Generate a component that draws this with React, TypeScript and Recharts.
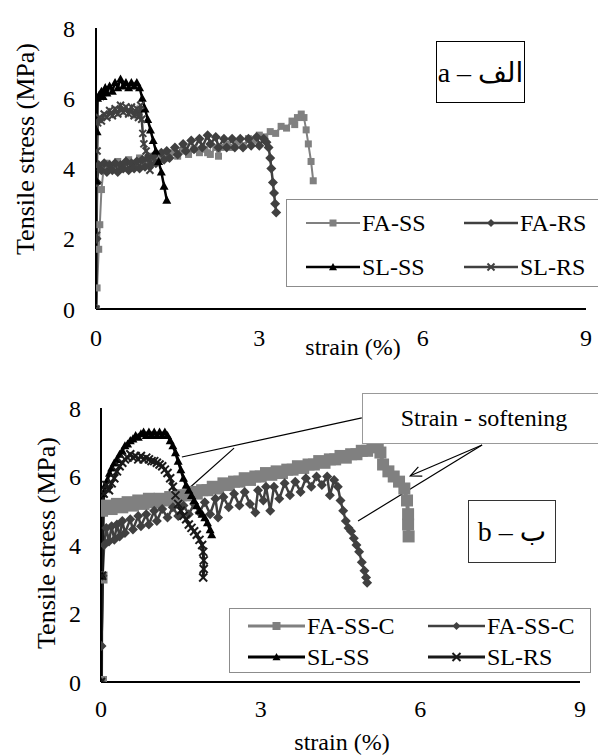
import React from 'react';
import { LineChart, Line, XAxis, YAxis, Legend, ReferenceLine } from 'recharts';

type Pt = [number, number];
type Marker = 'square' | 'diamond' | 'triangle' | 'cross';

const FONT = "'Liberation Serif', Tinos, 'Times New Roman', Times, 'DejaVu Serif', serif";
const BOX_FONT = "'Liberation Serif', 'Times New Roman', 'DejaVu Sans', serif";

const strainTicks = [0, 3, 6, 9];
const stressTicks = [0, 2, 4, 6, 8];

// chart a
const faSsA: Pt[] = [
  [0, 0], [0.02, 0.6], [0.05, 1.7], [0.07, 2.4], [0.1, 3.4], [0.14, 4.0], [0.2, 4.15], [0.3, 4.05],
  [0.4, 4.2], [0.5, 4.1], [0.6, 4.25], [0.7, 4.15], [0.8, 4.3], [0.9, 4.2], [1.0, 4.35], [1.1, 4.25],
  [1.2, 4.4], [1.3, 4.3], [1.4, 4.45], [1.5, 4.35], [1.6, 4.5], [1.7, 4.4], [1.8, 4.55], [1.9, 4.45],
  [2.0, 4.55], [2.05, 4.45], [2.1, 4.4], [2.2, 4.6], [2.25, 4.35], [2.3, 4.6], [2.4, 4.7], [2.5, 4.6],
  [2.6, 4.75], [2.7, 4.65], [2.8, 4.85], [2.9, 4.8], [3.0, 4.95], [3.1, 4.9], [3.2, 5.05], [3.3, 5.0],
  [3.4, 5.2], [3.5, 5.15], [3.6, 5.35], [3.65, 5.25], [3.7, 5.45], [3.77, 5.55], [3.82, 5.45],
  [3.86, 5.1], [3.9, 4.7], [3.95, 4.2], [3.99, 3.65],
];
const faRsA: Pt[] = [
  [0, 0], [0.01, 2.0], [0.02, 3.6], [0.05, 4.1], [0.1, 3.95], [0.15, 4.15], [0.2, 3.9], [0.25, 4.1],
  [0.3, 3.95], [0.35, 4.15], [0.4, 3.9], [0.45, 4.1], [0.5, 4.0], [0.55, 4.2], [0.6, 3.95], [0.65, 4.15],
  [0.7, 4.0], [0.75, 4.2], [0.8, 4.0], [0.85, 4.25], [0.9, 4.05], [0.95, 4.3], [1.0, 4.1], [1.05, 4.35],
  [1.1, 4.15], [1.2, 4.45], [1.25, 4.25], [1.3, 4.5], [1.35, 4.3], [1.45, 4.6], [1.5, 4.4], [1.6, 4.7],
  [1.65, 4.5], [1.75, 4.8], [1.8, 4.55], [1.9, 4.85], [1.95, 4.6], [2.05, 4.95], [2.1, 4.7], [2.2, 4.9],
  [2.25, 4.6], [2.35, 4.85], [2.4, 4.6], [2.5, 4.85], [2.55, 4.6], [2.65, 4.85], [2.7, 4.6], [2.8, 4.85],
  [2.85, 4.65], [2.95, 4.9], [3.0, 4.65], [3.08, 4.85], [3.13, 4.75], [3.17, 4.6], [3.2, 4.3], [3.22, 4.0],
  [3.25, 3.6], [3.27, 3.3], [3.29, 3.0], [3.31, 2.75],
];
const slSsA: Pt[] = [
  [0, 0], [0.01, 3.65], [0.02, 5.05], [0.03, 6.0], [0.06, 6.1], [0.1, 6.2], [0.13, 6.05], [0.17, 6.3],
  [0.2, 6.15], [0.25, 6.35], [0.3, 6.2], [0.35, 6.45], [0.4, 6.3], [0.45, 6.55], [0.5, 6.35], [0.55, 6.45],
  [0.6, 6.3], [0.65, 6.45], [0.7, 6.35], [0.75, 6.45], [0.8, 6.3], [0.85, 6.0], [0.9, 5.7], [0.95, 5.4],
  [1.0, 5.1], [1.05, 4.8], [1.1, 4.5], [1.15, 4.2], [1.2, 3.9], [1.25, 3.5], [1.3, 3.1],
];
const slRsA: Pt[] = [
  [0, 0], [0.01, 2.1], [0.02, 4.5], [0.03, 5.3], [0.06, 5.45], [0.1, 5.35], [0.15, 5.55], [0.2, 5.45],
  [0.25, 5.65], [0.3, 5.5], [0.35, 5.7], [0.4, 5.55], [0.45, 5.8], [0.5, 5.6], [0.55, 5.75], [0.6, 5.55],
  [0.65, 5.75], [0.7, 5.5], [0.75, 5.7], [0.78, 5.45], [0.82, 5.8], [0.84, 5.4], [0.86, 5.0], [0.88, 4.7],
  [0.92, 4.5], [0.96, 4.3], [0.99, 3.95],
];

// chart b
const faSsCB: Pt[] = [
  [0, 0], [0.01, 3.05], [0.02, 5.0], [0.1, 5.15], [0.2, 5.05], [0.3, 5.2], [0.4, 5.1], [0.5, 5.25],
  [0.6, 5.15], [0.7, 5.3], [0.8, 5.2], [0.9, 5.35], [1.0, 5.25], [1.1, 5.35], [1.2, 5.3], [1.3, 5.4],
  [1.4, 5.35], [1.5, 5.45], [1.6, 5.45], [1.7, 5.55], [1.8, 5.5], [1.9, 5.6], [2.0, 5.6], [2.1, 5.7],
  [2.2, 5.65], [2.3, 5.8], [2.4, 5.75], [2.5, 5.85], [2.6, 5.85], [2.7, 5.95], [2.8, 5.9], [2.9, 6.0],
  [3.0, 6.0], [3.1, 6.1], [3.2, 6.05], [3.3, 6.15], [3.4, 6.1], [3.5, 6.2], [3.6, 6.2], [3.7, 6.3],
  [3.8, 6.25], [3.9, 6.35], [4.0, 6.35], [4.1, 6.45], [4.2, 6.4], [4.3, 6.5], [4.4, 6.5], [4.5, 6.6],
  [4.6, 6.55], [4.7, 6.65], [4.8, 6.65], [4.9, 6.75], [5.0, 6.75], [5.1, 6.85], [5.2, 6.9], [5.25, 6.7],
  [5.3, 6.35], [5.4, 6.15], [5.5, 6.0], [5.6, 5.85], [5.7, 5.65], [5.75, 5.3], [5.77, 4.9], [5.77, 4.6],
  [5.78, 4.25],
];
const faSsC2B: Pt[] = [
  [0, 0], [0.01, 1.05], [0.03, 3.1], [0.06, 4.0], [0.1, 4.5], [0.15, 4.1], [0.2, 4.55], [0.25, 4.15],
  [0.3, 4.6], [0.35, 4.25], [0.4, 4.7], [0.45, 4.35], [0.55, 4.75], [0.6, 4.45], [0.7, 4.85], [0.75, 4.55],
  [0.85, 4.9], [0.9, 4.6], [1.0, 5.0], [1.05, 4.7], [1.15, 5.05], [1.25, 4.8], [1.35, 5.1], [1.45, 4.85],
  [1.55, 5.15], [1.65, 4.9], [1.75, 5.2], [1.85, 4.95], [1.95, 5.25], [2.05, 4.9], [2.15, 5.35], [2.2, 4.8],
  [2.3, 5.4], [2.4, 5.1], [2.5, 5.5], [2.6, 5.15], [2.7, 5.55], [2.8, 5.2], [2.9, 4.95], [2.95, 5.6],
  [3.05, 5.3], [3.1, 5.7], [3.18, 5.0], [3.25, 5.7], [3.35, 5.35], [3.45, 5.8], [3.55, 5.45], [3.65, 5.85],
  [3.75, 5.55], [3.85, 5.95], [3.95, 5.7], [4.05, 6.0], [4.15, 5.75], [4.25, 6.0], [4.3, 5.45], [4.38, 5.9],
  [4.45, 5.7], [4.5, 5.3], [4.55, 5.0], [4.6, 4.7], [4.65, 4.5], [4.7, 4.4], [4.75, 4.2], [4.8, 4.0],
  [4.85, 3.8], [4.9, 3.5], [4.95, 3.25], [4.98, 3.05], [5.0, 2.9],
];
const slSsB: Pt[] = [
  [0, 0], [0.02, 3.1], [0.04, 5.5], [0.08, 5.75], [0.12, 5.9], [0.16, 6.1], [0.2, 6.25], [0.25, 6.4],
  [0.3, 6.5], [0.35, 6.65], [0.4, 6.75], [0.45, 6.9], [0.5, 6.95], [0.55, 7.05], [0.6, 7.1], [0.65, 7.2],
  [0.7, 7.15], [0.75, 7.25], [0.8, 7.3], [0.85, 7.2], [0.9, 7.3], [0.95, 7.2], [1.0, 7.3], [1.05, 7.2],
  [1.1, 7.3], [1.15, 7.2], [1.2, 7.3], [1.25, 7.2], [1.3, 7.05], [1.35, 6.9], [1.4, 6.7], [1.45, 6.45],
  [1.5, 6.2], [1.55, 5.95], [1.6, 5.75], [1.65, 5.6], [1.7, 5.45], [1.75, 5.3], [1.8, 5.15], [1.85, 5.0],
  [1.9, 4.9], [1.95, 4.8], [2.0, 4.65], [2.05, 4.45], [2.08, 4.3],
];
const slRsB: Pt[] = [
  [0, 0], [0.02, 3.1], [0.05, 5.5], [0.1, 5.75], [0.15, 5.6], [0.2, 5.8], [0.25, 5.95], [0.3, 6.15],
  [0.35, 6.3], [0.4, 6.4], [0.45, 6.5], [0.5, 6.55], [0.55, 6.65], [0.6, 6.55], [0.65, 6.6], [0.7, 6.5],
  [0.75, 6.6], [0.8, 6.5], [0.85, 6.55], [0.9, 6.5], [0.95, 6.45], [1.0, 6.45], [1.05, 6.4], [1.1, 6.35],
  [1.15, 6.3], [1.2, 6.2], [1.25, 6.1], [1.3, 5.95], [1.35, 5.7], [1.4, 5.45], [1.45, 5.2], [1.5, 5.0],
  [1.55, 4.85], [1.6, 4.75], [1.65, 4.6], [1.7, 4.5], [1.75, 4.4], [1.8, 4.3], [1.85, 4.15], [1.9, 4.0],
  [1.92, 3.8], [1.93, 3.55], [1.93, 3.3], [1.92, 3.05],
];

// callout segments for "Strain - softening" (strain, stress)
const softeningLines: [Pt, Pt][] = [
  [[4.9, 7.71], [1.52, 6.57]],
  [[2.5, 6.83], [1.47, 5.4]],
  [[7.16, 6.92], [4.83, 4.7]],
];
const softeningArrow: [Pt, Pt] = [[7.16, 6.92], [5.81, 6.02]];

type Series = { name: string; pts: Pt[]; color: string; marker: Marker; size: number; width: number };

const seriesA: Series[] = [
  { name: 'FA-SS', pts: faSsA, color: '#808080', marker: 'square', size: 7, width: 2 },
  { name: 'FA-RS', pts: faRsA, color: '#404040', marker: 'diamond', size: 10, width: 2.5 },
  { name: 'SL-SS', pts: slSsA, color: '#000000', marker: 'triangle', size: 9, width: 2.5 },
  { name: 'SL-RS', pts: slRsA, color: '#404040', marker: 'cross', size: 7, width: 2.5 },
];
const seriesB: Series[] = [
  { name: 'FA-SS-C', pts: faSsCB, color: '#808080', marker: 'square', size: 12, width: 4 },
  { name: 'FA-SS-C', pts: faSsC2B, color: '#404040', marker: 'diamond', size: 10, width: 2.5 },
  { name: 'SL-SS', pts: slSsB, color: '#000000', marker: 'triangle', size: 9, width: 3 },
  { name: 'SL-RS', pts: slRsB, color: '#1a1a1a', marker: 'cross', size: 8, width: 3 },
];

const toRows = (pts: Pt[]) => pts.map(([x, y]) => ({ x, y }));

function drawMarker(kind: Marker, cx: number, cy: number, size: number, color: string, key?: string) {
  const h = size / 2;
  if (kind === 'square') {
    return <rect key={key} x={cx - h} y={cy - h} width={size} height={size} fill={color} />;
  }
  if (kind === 'diamond') {
    return <polygon key={key} points={`${cx},${cy - h} ${cx + h},${cy} ${cx},${cy + h} ${cx - h},${cy}`} fill={color} />;
  }
  if (kind === 'triangle') {
    return <polygon key={key} points={`${cx},${cy - h} ${cx + h},${cy + h * 0.8} ${cx - h},${cy + h * 0.8}`} fill={color} />;
  }
  return (
    <g key={key} stroke={color} strokeWidth={2}>
      <line x1={cx - h} y1={cy - h} x2={cx + h} y2={cy + h} />
      <line x1={cx - h} y1={cy + h} x2={cx + h} y2={cy - h} />
    </g>
  );
}

const dotFor = (s: Series) => (p: any) => {
  if (p.cx == null || p.cy == null) return <g key={`e${p.index}`} />;
  return drawMarker(s.marker, p.cx, p.cy, s.size, s.color, `d${p.index}`);
};

function ArrowLine(props: any) {
  const { x1, y1, x2, y2 } = props;
  const dx = x2 - x1;
  const dy = y2 - y1;
  const len = Math.sqrt(dx * dx + dy * dy) || 1;
  const ux = dx / len;
  const uy = dy / len;
  const bx = x2 - ux * 11;
  const by = y2 - uy * 11;
  return (
    <g stroke="#000" strokeWidth={1.2} fill="none">
      <line x1={x1} y1={y1} x2={x2} y2={y2} />
      <polyline points={`${bx - uy * 5},${by + ux * 5} ${x2},${y2} ${bx + uy * 5},${by - ux * 5}`} />
    </g>
  );
}

type LegendLayout = { w: number; h: number; colX: number[]; rowY: number[]; sampleW: number };

const legendContent = (series: Series[], lay: LegendLayout) => () => (
  <div
    style={{
      position: 'relative',
      width: lay.w,
      height: lay.h,
      border: '1.5px solid #8c8c8c',
      background: '#fff',
      boxSizing: 'border-box',
      fontFamily: FONT,
    }}
  >
    {series.map((s, i) => (
      <div
        key={i}
        style={{
          position: 'absolute',
          left: lay.colX[i % 2],
          top: lay.rowY[Math.floor(i / 2)] - 14,
          height: 28,
          display: 'flex',
          alignItems: 'center',
          whiteSpace: 'nowrap',
        }}
      >
        <svg width={lay.sampleW} height={28}>
          <line x1={0} y1={14} x2={lay.sampleW} y2={14} stroke={s.color} strokeWidth={Math.min(s.width, 3)} />
          {drawMarker(s.marker, lay.sampleW / 2, 14, Math.min(s.size, 8), s.color)}
        </svg>
        <span style={{ fontSize: 24, lineHeight: '28px', color: '#000', marginLeft: 2, fontFamily: FONT }}>{s.name}</span>
      </div>
    ))}
  </div>
);

const tickStyle = { fontSize: 24, fill: '#000', fontFamily: FONT };
const axisLine = { stroke: '#000', strokeWidth: 2 };

const boxStyle = (left: number, top: number, width: number, height: number, border: string): React.CSSProperties => ({
  position: 'absolute',
  left,
  top,
  width,
  height,
  border,
  boxSizing: 'border-box',
  background: '#fff',
  display: 'flex',
  alignItems: 'center',
  justifyContent: 'center',
  fontFamily: BOX_FONT,
  color: '#000',
});

export default function App() {
  return (
    <div
      style={{
        position: 'absolute',
        left: 0,
        top: 0,
        width: 598,
        height: 755,
        overflow: 'hidden',
        background: '#fff',
        fontFamily: FONT,
      }}
    >
      <div style={{ position: 'absolute', left: 0, top: 0 }}>
        <LineChart width={598} height={360} margin={{ top: 28, right: 12, bottom: 0, left: 0 }} style={{ fontFamily: FONT }}>
          <XAxis
            dataKey="x"
            type="number"
            domain={[0, 9]}
            ticks={strainTicks}
            interval={0}
            allowDataOverflow
            height={51}
            axisLine={axisLine}
            tickLine={false}
            tickSize={0}
            tickMargin={20}
            tick={tickStyle}
            label={() => (
              <text x={353} y={355} textAnchor="middle" fontSize={24} style={{ fontFamily: FONT }} fill="#000">
                strain (%)
              </text>
            )}
          />
          <YAxis
            type="number"
            domain={[0, 8]}
            ticks={stressTicks}
            interval={0}
            allowDataOverflow
            width={96}
            axisLine={axisLine}
            tickLine={false}
            tickSize={0}
            tickMargin={21}
            tick={tickStyle}
            label={() => (
              <text x={34} y={149} transform="rotate(-90 34 149)" textAnchor="middle" fontSize={26} style={{ fontFamily: FONT }} fill="#000">
                Tensile stress (MPa)
              </text>
            )}
          />
          {seriesA.map((s, i) => (
            <Line
              key={i}
              name={s.name}
              data={toRows(s.pts)}
              dataKey="y"
              type="linear"
              stroke={s.color}
              strokeWidth={s.width}
              dot={dotFor(s)}
              activeDot={false}
              isAnimationActive={false}
            />
          ))}
          <Legend
            layout="horizontal"
            verticalAlign="middle"
            align="center"
            wrapperStyle={{ left: 286, top: 199, width: 330, height: 88 }}
            content={legendContent(seriesA, { w: 330, h: 88, colX: [19, 177], rowY: [23, 67], sampleW: 54 })}
          />
        </LineChart>
      </div>

      <div style={{ position: 'absolute', left: 0, top: 370 }}>
        <LineChart width={598} height={385} margin={{ top: 38, right: 18, bottom: 0, left: 0 }} style={{ fontFamily: FONT }}>
          <XAxis
            dataKey="x"
            type="number"
            domain={[0, 9]}
            ticks={strainTicks}
            interval={0}
            allowDataOverflow
            height={73}
            axisLine={axisLine}
            tickLine={false}
            tickSize={0}
            tickMargin={18}
            tick={tickStyle}
            label={() => (
              <text x={342} y={380} textAnchor="middle" fontSize={24} style={{ fontFamily: FONT }} fill="#000">
                strain (%)
              </text>
            )}
          />
          <YAxis
            type="number"
            domain={[0, 8]}
            ticks={stressTicks}
            interval={0}
            allowDataOverflow
            width={101}
            axisLine={axisLine}
            tickLine={false}
            tickSize={0}
            tickMargin={20}
            tick={tickStyle}
            label={() => (
              <text x={55} y={173} transform="rotate(-90 55 173)" textAnchor="middle" fontSize={26} style={{ fontFamily: FONT }} fill="#000">
                Tensile stress (MPa)
              </text>
            )}
          />
          {seriesB.map((s, i) => (
            <Line
              key={i}
              name={s.name}
              data={toRows(s.pts)}
              dataKey="y"
              type="linear"
              stroke={s.color}
              strokeWidth={s.width}
              dot={dotFor(s)}
              activeDot={false}
              isAnimationActive={false}
            />
          ))}
          {softeningLines.map((seg, i) => (
            <ReferenceLine
              key={`s${i}`}
              segment={[{ x: seg[0][0], y: seg[0][1] }, { x: seg[1][0], y: seg[1][1] }]}
              stroke="#000"
              strokeWidth={1.2}
              ifOverflow="visible"
            />
          ))}
          <ReferenceLine
            segment={[
              { x: softeningArrow[0][0], y: softeningArrow[0][1] },
              { x: softeningArrow[1][0], y: softeningArrow[1][1] },
            ]}
            ifOverflow="visible"
            shape={(p: any) => <ArrowLine {...p} />}
          />
          <Legend
            layout="horizontal"
            verticalAlign="middle"
            align="center"
            wrapperStyle={{ left: 229, top: 238, width: 362, height: 65 }}
            content={legendContent(seriesB, { w: 362, h: 65, colX: [18, 198], rowY: [17, 48], sampleW: 57 })}
          />
        </LineChart>
      </div>

      <div style={boxStyle(436, 41, 89, 62, '1.5px solid #000')}>
        <span style={{ fontSize: 28 }}>a – الف</span>
      </div>
      <div style={boxStyle(468, 500, 88, 63, '1.5px solid #333')}>
        <span style={{ fontSize: 28 }}>b – ب</span>
      </div>
      <div style={{ ...boxStyle(362, 393, 250, 51, '1.5px solid #999'), justifyContent: 'flex-start' }}>
        <span style={{ fontSize: 24, fontFamily: FONT, width: 242, textAlign: 'center' }}>Strain - softening</span>
      </div>
    </div>
  );
}
